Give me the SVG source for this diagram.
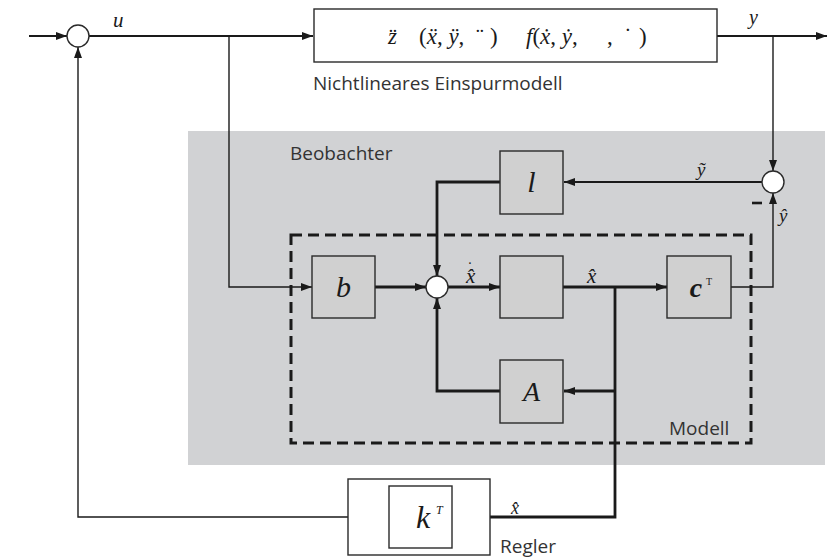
<svg xmlns="http://www.w3.org/2000/svg" width="837" height="559" viewBox="0 0 837 559">
  <defs>
    <marker id="arr" markerUnits="userSpaceOnUse" markerWidth="11" markerHeight="8" refX="11" refY="4" orient="auto">
      <path d="M0,0 L11,4 L0,8 z" fill="#1a1a1a"/>
    </marker>
  </defs>
  <style>
    .blk { fill: #d0d0d0; stroke: #2a2a2a; stroke-width: 1.4; }
    .wht { fill: #ffffff; stroke: #2a2a2a; stroke-width: 1.4; }
    .sum { fill: #ffffff; stroke: #2a2a2a; stroke-width: 1.4; }
    .thin { fill: none; stroke: #1a1a1a; stroke-width: 1.4; }
    .mid { fill: none; stroke: #1a1a1a; stroke-width: 2.2; }
    .thick { fill: none; stroke: #1a1a1a; stroke-width: 2.8; }
    .math { font-family: "Liberation Serif", "DejaVu Serif", serif; font-style: italic; fill: #1a1a1a; }
    .up { font-style: normal; }
    .lbl { font-family: "Open Sans", "Noto Sans", sans-serif; font-size: 19px; fill: #333333; }
  </style>

  <!-- observer background -->
  <rect x="188" y="131" width="637" height="334" fill="#d1d2d4"/>
  <text class="lbl" x="290" y="160">Beobachter</text>

  <!-- model boundary -->
  <rect x="291" y="235" width="460" height="208" fill="none" stroke="#1a1a1a" stroke-width="3" stroke-dasharray="11 6"/>
  <text class="lbl" x="669" y="435">Modell</text>

  <!-- connectors -->
  <g id="connectors">
    <path class="mid" d="M29,36 H67" marker-end="url(#arr)"/>
    <path class="mid" d="M89,36 H313" marker-end="url(#arr)"/>
    <path class="thin" d="M229,36 V287 H312" marker-end="url(#arr)"/>
    <path class="mid" d="M717,36 H827" marker-end="url(#arr)"/>
    <path class="thin" d="M773,36 V171" marker-end="url(#arr)"/>
    <path class="mid" d="M762,182 H564" marker-end="url(#arr)"/>
    <path class="thick" d="M500,182 H437 V276" marker-end="url(#arr)"/>
    <path class="thick" d="M375,287 H426" marker-end="url(#arr)"/>
    <path class="thick" d="M448,287 H500" marker-end="url(#arr)"/>
    <path class="thick" d="M563,287 H667" marker-end="url(#arr)"/>
    <path class="thick" d="M615,287 V517 H453" marker-end="url(#arr)"/>
    <path class="thick" d="M615,391 H564" marker-end="url(#arr)"/>
    <path class="thick" d="M500,391 H437 V298" marker-end="url(#arr)"/>
    <path class="thin" d="M731,287 H773 V193" marker-end="url(#arr)"/>
    <path class="thin" d="M389,517 H78 V47" marker-end="url(#arr)"/>
    <!-- minus sign at the comparison point -->
    <path d="M752,203 H762" stroke="#1a1a1a" stroke-width="2.6"/>
  </g>

  <!-- signal labels -->
  <text class="math" x="113" y="27" font-size="21">u</text>
  <text class="math" x="749" y="24" font-size="20">y</text>
  <text class="math" x="697" y="176" font-size="19">y&#771;</text>
  <text class="math" x="779" y="222" font-size="19">y&#770;</text>
  <text class="math" x="466" y="283" font-size="21">x&#770;<tspan class="up" dx="-8" dy="-10" font-size="16">&#729;</tspan></text>
  <text class="math" x="587" y="283" font-size="21">x&#770;</text>
  <text class="math" x="511" y="514" font-size="18">x&#770;</text>

  <!-- input summing junction -->
  <g id="sum-in">
    <circle class="sum" cx="78" cy="36" r="11"/>
  </g>

  <!-- nonlinear single-track model -->
  <g id="plant">
    <rect class="wht" x="314" y="9" width="403" height="53"/>
    <text class="math" y="44" font-size="23">
      <tspan x="388">z&#776;</tspan>
      <tspan x="419" class="up">(</tspan><tspan>x&#776;</tspan><tspan class="up">,</tspan><tspan> y&#776;</tspan><tspan class="up">,</tspan>
      <tspan x="476" class="up">&#168;</tspan><tspan x="490" class="up">)</tspan>
      <tspan x="526">f</tspan><tspan class="up">(</tspan><tspan>x&#775;</tspan><tspan class="up">,</tspan><tspan> y&#775;</tspan><tspan class="up">,</tspan>
      <tspan x="607" class="up">,</tspan><tspan x="624" class="up">&#729;</tspan><tspan x="639" class="up">)</tspan>
    </text>
    <text class="lbl" x="313" y="90">Nichtlineares Einspurmodell</text>
  </g>

  <!-- output comparison -->
  <g id="sum-out">
    <circle class="sum" cx="773" cy="182" r="11"/>
  </g>

  <g id="block-l">
    <rect class="blk" x="500" y="151" width="63" height="63"/>
    <text class="math" x="531.5" y="192" font-size="30" text-anchor="middle">l</text>
  </g>

  <g id="block-b">
    <rect class="blk" x="312" y="256" width="63" height="62"/>
    <text class="math" x="343.5" y="297" font-size="30" text-anchor="middle">b</text>
  </g>

  <g id="sum-model">
    <circle class="sum" cx="437" cy="287" r="11"/>
  </g>

  <g id="block-int">
    <rect class="blk" x="500" y="256" width="63" height="62"/>
  </g>

  <g id="block-c">
    <rect class="blk" x="667" y="256" width="64" height="62"/>
    <text class="math" x="696" y="297" font-size="28" font-weight="bold" text-anchor="middle">c</text>
    <text class="math up" x="706" y="285" font-size="10">T</text>
  </g>

  <g id="block-A">
    <rect class="blk" x="500" y="360" width="63" height="63"/>
    <text class="math" x="531.5" y="401" font-size="28" text-anchor="middle">A</text>
  </g>

  <!-- state feedback controller -->
  <g id="regler">
    <rect class="wht" x="348" y="479" width="142" height="76"/>
    <rect class="wht" x="389" y="486" width="63" height="62"/>
    <text class="math" x="423" y="528" font-size="32" text-anchor="middle">k</text>
    <text class="math" x="436" y="514" font-size="12">T</text>
    <text class="lbl" x="500" y="553" font-size="14.5">Regler</text>
  </g>
</svg>
